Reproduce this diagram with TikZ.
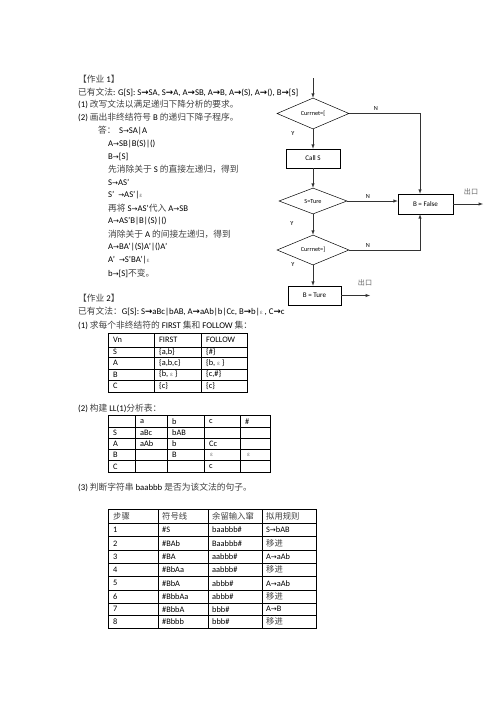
\documentclass[tikz,border=0pt]{standalone}
\usepackage{fontspec}
\setmainfont{Carlito}
\newfontfamily\cjk{Noto Sans CJK SC}
\newfontfamily\symf{DejaVu Sans}
\usetikzlibrary{arrows,shapes.geometric}
\newcommand{\zh}[1]{{\cjk\color{black!75}#1}}
\newcommand{\rto}{{\symf\fontsize{8.5}{9}\selectfont →}}
\newcommand{\rtoB}{{\symf\bfseries →}}
\newcommand{\epsl}{{\cjk\color{black!55}\fontsize{7}{8}\selectfont ε}}

\begin{document}
\begin{tikzpicture}[x=1.2pt,y=-1.2pt,
   txt/.style={anchor=west,inner sep=0pt,font=\fontsize{10.5}{12}\selectfont},
   cell/.style={anchor=west,inner sep=0pt,font=\fontsize{10}{12}\selectfont},
   tab/.style={line width=0.6pt},
   dec/.style={diamond,draw,line width=0.6pt,inner sep=0pt,font=\fontsize{7.5}{9}\selectfont},
   proc/.style={rectangle,draw,line width=0.6pt,inner sep=0pt,font=\fontsize{8.5}{10}\selectfont},
   flow/.style={-latex,draw=black!80,line width=0.8pt},
   yn/.style={inner sep=0pt,font=\fontsize{7.5}{9}\selectfont},
   exit/.style={inner sep=0pt,font=\fontsize{8.5}{10}\cjk\color{black!60}}]
   \useasboundingbox (0,0) rectangle (496,702);

   %% Aufgabe 1
   \node[txt] (h1) at (78,79) {\zh{【作业} 1\zh{】}};
   \node[txt] (g1) at (78,92) {\zh{已有文法}: G[S]: S\rtoB SA, S\rtoB A, A\rtoB SB, A\rtoB B, A\rtoB (S), A\rtoB (), B\rtoB [S]};
   \node[txt] (q11) at (78,104.9) {\makebox[14pt][l]{(1)}\zh{改写文法以满足递归下降分析的要求。}};
   \node[txt] (q12) at (78,117.8) {\makebox[14pt][l]{(2)}\zh{画出非终结符号} B \zh{的递归下降子程序。}};
   \node[txt] (a1) at (98,130.8) {\makebox[25pt][l]{\zh{答：}}S\rto SA|A};
   \node[txt] (a2) at (108,143.7) {A\rto SB|B(S)|()};
   \node[txt] (a3) at (108,156.7) {B\rto [S]};
   \node[txt] (a4) at (108,169.6) {\zh{先消除关于} S \zh{的直接左递归，得到}};
   \node[txt] (a5) at (108,182.6) {S\rto AS'};
   \node[txt] (a6) at (108,195.5) {S'\ \ \rto AS'|\epsl};
   \node[txt] (a7) at (108,208.5) {\zh{再将} S\rto AS'\zh{代入} A\rto SB};
   \node[txt] (a8) at (108,221.4) {A\rto AS'B|B|(S)|()};
   \node[txt] (a9) at (108,234.4) {\zh{消除关于} A \zh{的间接左递归，得到}};
   \node[txt] (a10) at (108,247.3) {A\rto BA'|(S)A'|()A'};
   \node[txt] (a11) at (108,260.3) {A'\ \ \rto S'BA'|\epsl};
   \node[txt] (a12) at (108,273.2) {b\rto [S]\zh{不变。}};

   %% Flussdiagramm
   \node[dec,minimum width=86.4pt,minimum height=37.2pt] (curL) at (313,113.5) {Currnet=[};
   \node[proc,minimum width=64.8pt,minimum height=22.8pt] (callS) at (313,158.5) {Call S};
   \node[dec,minimum width=81.6pt,minimum height=31.2pt] (isTrue) at (313,201) {S=Ture};
   \node[dec,minimum width=86.4pt,minimum height=36pt] (curR) at (313,250) {Currnet=]};
   \node[proc,minimum width=66pt,minimum height=24pt] (bFalse) at (425.5,204) {B = False};
   \node[proc,minimum width=63.6pt,minimum height=22.8pt] (bTrue) at (314.5,295.5) {B = Ture};
   \coordinate (entry) at (313,78);
   \coordinate (turnN) at (420,113.5);
   \coordinate (turnS) at (420,250);
   \coordinate (exitF) at (483,204);
   \coordinate (exitT) at (370,295.5);

   \draw[flow] (entry) -- (curL.north);
   \draw[flow] (curL.south) -- (callS.north);
   \draw[flow] (callS.south) -- (isTrue.north);
   \draw[flow] (isTrue.south) -- (curR.north);
   \draw[flow] (curR.south) -- (curR.south |- bTrue.north);
   \draw[flow] (curL.east) -- (turnN) -- (turnN |- bFalse.north);
   \draw[flow] (isTrue.east) -- (bFalse.west |- isTrue.east);
   \draw[flow] (curR.east) -- (turnS) -- (turnS |- bFalse.south);
   \draw[flow] (bFalse.east) -- (exitF);
   \draw[flow] (bTrue.east) -- (exitT);

   \node[yn] (n1) at (376,108) {N};
   \node[yn] (n2) at (368,196) {N};
   \node[yn] (n3) at (368,245) {N};
   \node[yn] (y1) at (293,133) {Y};
   \node[yn] (y2) at (292,223) {Y};
   \node[yn] (y3) at (293,264) {Y};
   \node[exit] (out1) at (471,192) {出口};
   \node[exit] (out2) at (365,283) {出口};

   %% Aufgabe 2
   \node[txt] (h2) at (78,298) {\zh{【作业} 2\zh{】}};
   \node[txt] (g2) at (78,312) {\zh{已有文法：}G[S]: S\rtoB aBc|bAB, A\rtoB aAb|b|Cc, B\rtoB b|\epsl\ , C\rtoB c};
   \node[txt] (q21) at (78,325) {\makebox[14pt][l]{(1)}\zh{求每个非终结符的} FIRST \zh{集和} FOLLOW \zh{集：}};

   %% Tabelle FIRST/FOLLOW
   \draw[tab] (108,333.5) rectangle (247,392);
   \draw[tab] (154,333.5) -- (154,392) (201,333.5) -- (201,392);
   \draw[tab] (108,347) -- (247,347) (108,357.5) -- (247,357.5) (108,369) -- (247,369) (108,380) -- (247,380);
   \node[cell] (f00) at (113,340.3) {Vn};   \node[cell] (f01) at (159,340.3) {FIRST};       \node[cell] (f02) at (206,340.3) {FOLLOW};
   \node[cell] (f10) at (113,352.3) {S};    \node[cell] (f11) at (159,352.3) {\{a,b\}};     \node[cell] (f12) at (206,352.3) {\{\#\}};
   \node[cell] (f20) at (113,363.3) {A};    \node[cell] (f21) at (159,363.3) {\{a,b,c\}};   \node[cell] (f22) at (206,363.3) {\{b, \epsl\ \}};
   \node[cell] (f30) at (113,374.5) {B};    \node[cell] (f31) at (159,374.5) {\{b, \epsl\ \}}; \node[cell] (f32) at (206,374.5) {\{c,\#\}};
   \node[cell] (f40) at (113,386) {C};      \node[cell] (f41) at (159,386) {\{c\}};         \node[cell] (f42) at (206,386) {\{c\}};

   \node[txt] (q22) at (78,408) {\makebox[14pt][l]{(2)}\zh{构建} LL(1)\zh{分析表：}};

   %% Tabelle LL(1)
   \draw[tab] (108,415.7) rectangle (270.7,472.3);
   \draw[tab] (135,415.7) -- (135,472.3) (167.3,415.7) -- (167.3,472.3) (204,415.7) -- (204,472.3) (240,415.7) -- (240,472.3);
   \draw[tab] (108,427.3) -- (270.7,427.3) (108,438.3) -- (270.7,438.3) (108,449.3) -- (270.7,449.3) (108,460.7) -- (270.7,460.7);
   \node[cell] (m01) at (140,421.5) {a}; \node[cell] (m02) at (172,421.5) {b}; \node[cell] (m03) at (209,421.5) {c}; \node[cell] (m04) at (245,421.5) {\#};
   \node[cell] (m10) at (113,432.8) {S}; \node[cell] (m11) at (140,432.8) {aBc}; \node[cell] (m12) at (172,432.8) {bAB};
   \node[cell] (m20) at (113,443.8) {A}; \node[cell] (m21) at (140,443.8) {aAb}; \node[cell] (m22) at (172,443.8) {b}; \node[cell] (m23) at (209,443.8) {Cc};
   \node[cell] (m30) at (113,455) {B};   \node[cell] (m32) at (172,455) {B};   \node[cell] (m33) at (210,455) {\epsl}; \node[cell] (m34) at (247,455) {\epsl};
   \node[cell] (m40) at (113,466.5) {C}; \node[cell] (m43) at (209,466.5) {c};

   \node[txt] (q23) at (78,487) {\makebox[14pt][l]{(3)}\zh{判断字符串} baabbb \zh{是否为该文法的句子。}};

   %% Tabelle Analyse
   \draw[tab] (108,509) rectangle (316,628);
   \draw[tab] (158,509) -- (158,628) (208,509) -- (208,628) (262,509) -- (262,628);
   \draw[tab] (108,523) -- (316,523) (108,536.5) -- (316,536.5) (108,550) -- (316,550) (108,563) -- (316,563)
              (108,576.5) -- (316,576.5) (108,590) -- (316,590) (108,603) -- (316,603) (108,615.5) -- (316,615.5);
   \node[cell] (s00) at (113,516) {\zh{步骤}}; \node[cell] (s01) at (162,516) {\zh{符号线}}; \node[cell] (s02) at (212,516) {\zh{余留输入窜}}; \node[cell] (s03) at (266,516) {\zh{拟用规则}};
   \node[cell] (s10) at (113,529.8) {1}; \node[cell] (s11) at (162,529.8) {\#S};     \node[cell] (s12) at (212,529.8) {baabbb\#}; \node[cell] (s13) at (266,529.8) {S\rto bAB};
   \node[cell] (s20) at (113,543.3) {2}; \node[cell] (s21) at (162,543.3) {\#BAb};   \node[cell] (s22) at (212,543.3) {Baabbb\#}; \node[cell] (s23) at (266,543.3) {\zh{移进}};
   \node[cell] (s30) at (113,556.5) {3}; \node[cell] (s31) at (162,556.5) {\#BA};    \node[cell] (s32) at (212,556.5) {aabbb\#};  \node[cell] (s33) at (266,556.5) {A\rto aAb};
   \node[cell] (s40) at (113,569.8) {4}; \node[cell] (s41) at (162,569.8) {\#BbAa};  \node[cell] (s42) at (212,569.8) {aabbb\#};  \node[cell] (s43) at (266,569.8) {\zh{移进}};
   \node[cell] (s50) at (113,583.3) {5}; \node[cell] (s51) at (162,583.3) {\#BbA};   \node[cell] (s52) at (212,583.3) {abbb\#};   \node[cell] (s53) at (266,583.3) {A\rto aAb};
   \node[cell] (s60) at (113,596.5) {6}; \node[cell] (s61) at (162,596.5) {\#BbbAa}; \node[cell] (s62) at (212,596.5) {abbb\#};   \node[cell] (s63) at (266,596.5) {\zh{移进}};
   \node[cell] (s70) at (113,609.3) {7}; \node[cell] (s71) at (162,609.3) {\#BbbA};  \node[cell] (s72) at (212,609.3) {bbb\#};    \node[cell] (s73) at (266,609.3) {A\rto B};
   \node[cell] (s80) at (113,621.8) {8}; \node[cell] (s81) at (162,621.8) {\#Bbbb};  \node[cell] (s82) at (212,621.8) {bbb\#};    \node[cell] (s83) at (266,621.8) {\zh{移进}};
\end{tikzpicture}
\end{document}
